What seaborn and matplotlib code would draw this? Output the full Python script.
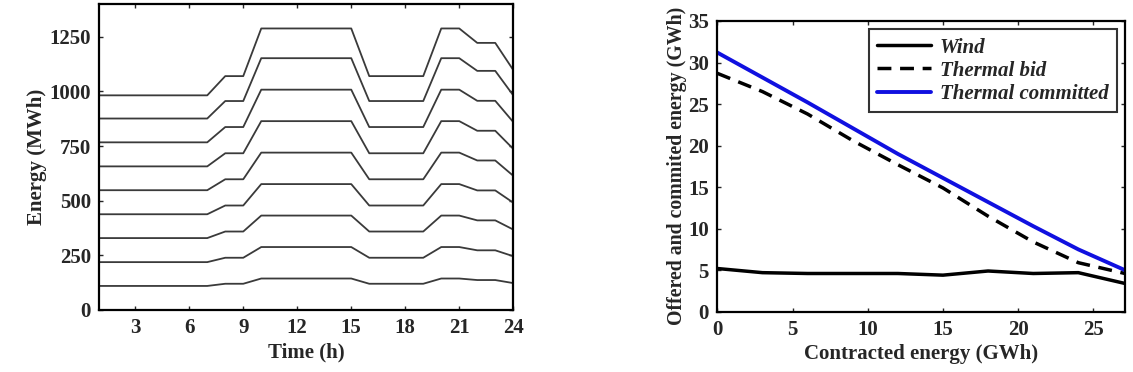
import numpy as np
import pandas as pd
import matplotlib
matplotlib.use('Agg')
import matplotlib.pyplot as plt
import seaborn as sns

# left panel: hourly energy profiles (MWh), one list per curve
hours = list(range(1, 25))
line1 = [110]*7 + [120, 120] + [144]*6 + [120]*4 + [144, 144] + [137, 137] + [123]
line2 = [219]*7 + [239, 239] + [288]*6 + [239]*4 + [288, 288] + [273, 273] + [246]
line3 = [329]*7 + [359, 359] + [432]*6 + [359]*4 + [432, 432] + [410, 410] + [368]
line4 = [438]*7 + [478, 478] + [576]*6 + [478]*4 + [576, 576] + [547, 547] + [491]
line5 = [548]*7 + [598, 598] + [720]*6 + [598]*4 + [720, 720] + [684, 684] + [614]
line6 = [657]*7 + [717, 717] + [864]*6 + [717]*4 + [864, 864] + [820, 820] + [737]
line7 = [767]*7 + [837, 837] + [1008]*6 + [837]*4 + [1008, 1008] + [957, 957] + [860]
line8 = [876]*7 + [956, 956] + [1152]*6 + [956]*4 + [1152, 1152] + [1094, 1094] + [982]
line9 = [982]*7 + [1070, 1070] + [1288]*6 + [1070]*4 + [1288, 1288] + [1222, 1222] + [1098]
profiles = [line1, line2, line3, line4, line5, line6, line7, line8, line9]

# right panel: energies vs contracted energy (GWh)
contracted = [0, 3, 6, 9, 12, 15, 18, 21, 24, 27.1]
wind = [5.2, 4.7, 4.6, 4.6, 4.6, 4.4, 4.9, 4.6, 4.7, 3.4]
thermal_bid = [28.7, 26.5, 23.8, 20.6, 17.7, 14.9, 11.5, 8.4, 5.9, 4.6]
thermal_committed = [31.2, 28.2, 25.2, 22.1, 19.0, 16.1, 13.2, 10.3, 7.5, 5.0]

sns.set_style('ticks')
plt.rcParams['font.family'] = ['Liberation Serif', 'DejaVu Serif']
plt.rcParams['font.weight'] = 'bold'
plt.rcParams['xtick.direction'] = 'in'
plt.rcParams['ytick.direction'] = 'in'
plt.rcParams['xtick.top'] = True
plt.rcParams['ytick.right'] = True
plt.rcParams['axes.linewidth'] = 1.6
plt.rcParams['axes.edgecolor'] = 'black'

fig = plt.figure(figsize=(11.33, 3.72), dpi=100)
ax1 = fig.add_axes([0.0876, 0.1667, 0.3654, 0.8226])
ax2 = fig.add_axes([0.6331, 0.1621, 0.3598, 0.7815])

rows = []
for k, prof in enumerate(profiles):
    for h, v in zip(hours, prof):
        rows.append((k, h, v))
df_ = pd.DataFrame(rows, columns=['curve', 'hour', 'energy'])
sns.lineplot(data=df_, x='hour', y='energy', hue='curve', palette=['#3a3a3a']*9,
             linewidth=1.3, legend=False, ax=ax1)
ax1.set_xlim(1, 24)
ax1.set_ylim(0, 1400)
ax1.set_xticks([3, 6, 9, 12, 15, 18, 21, 24])
ax1.set_yticks([0, 250, 500, 750, 1000, 1250])
ax1.set_xlabel('Time (h)', fontsize=15, fontweight='bold', labelpad=3)
ax1.set_ylabel('Energy (MWh)', fontsize=15, fontweight='bold', labelpad=2)

sns.lineplot(x=contracted, y=wind, color='black', linewidth=2.5, label='Wind', ax=ax2)
sns.lineplot(x=contracted, y=thermal_bid, color='black', linewidth=2.5, label='Thermal bid', ax=ax2)
ax2.lines[-1].set_dashes([4, 2.5])
sns.lineplot(x=contracted, y=thermal_committed, color='#1010e0', linewidth=2.8,
             label='Thermal committed', ax=ax2)
ax2.set_xlim(0, 27.1)
ax2.set_ylim(0, 35)
ax2.set_xticks([0, 5, 10, 15, 20, 25])
ax2.set_yticks([0, 5, 10, 15, 20, 25, 30, 35])
ax2.set_xlabel('Contracted energy (GWh)', fontsize=15, fontweight='bold', labelpad=3)
ax2.set_ylabel('Offered and commited energy (GWh)', fontsize=14.3, fontweight='bold', labelpad=1)
leg = ax2.legend(loc='upper right', prop={'family': 'Liberation Serif', 'style': 'italic',
                                          'weight': 'bold', 'size': 15},
                 frameon=True, fancybox=False, edgecolor='black', handlelength=2.6,
                 borderaxespad=0.4, labelspacing=0.15, handletextpad=0.4)
leg.get_frame().set_linewidth(1.5)

for ax in (ax1, ax2):
    ax.tick_params(labelsize=15, length=3, width=1, pad=6)
    for lab in ax.get_xticklabels() + ax.get_yticklabels():
        lab.set_fontweight('bold')

fig.savefig('out.png', dpi=100)
